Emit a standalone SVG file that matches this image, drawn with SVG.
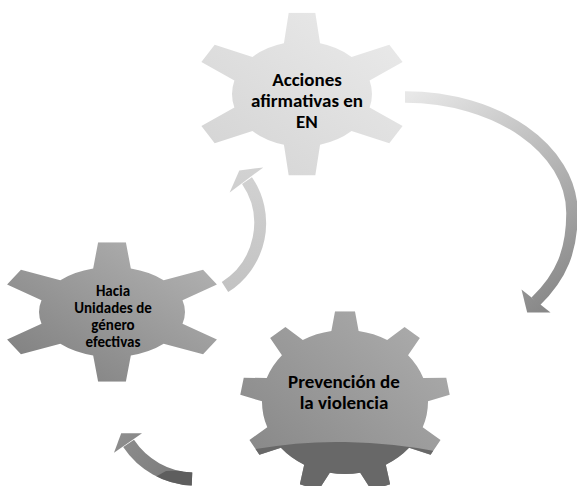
<svg xmlns="http://www.w3.org/2000/svg" width="577" height="486" viewBox="0 0 577 486">
<defs>
<style>
.lbl{font-family:Carlito,"Liberation Sans",Arial,sans-serif;font-weight:bold;fill:#000;text-anchor:middle}
</style>
<clipPath id="gear6">
<circle cx="0" cy="0" r="100"/>
<polygon points="-26,-95 -19,-155 19,-155 26,-95"/>
<polygon points="-26,-95 -19,-155 19,-155 26,-95" transform="rotate(60)"/>
<polygon points="-26,-95 -19,-155 19,-155 26,-95" transform="rotate(120)"/>
<polygon points="-26,-95 -19,-155 19,-155 26,-95" transform="rotate(180)"/>
<polygon points="-26,-95 -19,-155 19,-155 26,-95" transform="rotate(240)"/>
<polygon points="-26,-95 -19,-155 19,-155 26,-95" transform="rotate(300)"/>
</clipPath>
<clipPath id="gear9">
<circle cx="0" cy="0" r="100"/>
<polygon points="-17,-95 -12,-126 12,-126 17,-95"/>
<polygon points="-17,-95 -12,-126 12,-126 17,-95" transform="rotate(40)"/>
<polygon points="-17,-95 -12,-126 12,-126 17,-95" transform="rotate(80)"/>
<polygon points="-17,-95 -12,-126 12,-126 17,-95" transform="rotate(120)"/>
<polygon points="-17,-95 -12,-126 12,-126 17,-95" transform="rotate(160)"/>
<polygon points="-17,-95 -12,-126 12,-126 17,-95" transform="rotate(200)"/>
<polygon points="-17,-95 -12,-126 12,-126 17,-95" transform="rotate(240)"/>
<polygon points="-17,-95 -12,-126 12,-126 17,-95" transform="rotate(280)"/>
<polygon points="-17,-95 -12,-126 12,-126 17,-95" transform="rotate(320)"/>
</clipPath>
<clipPath id="darkBand">
<path d="M250,450 Q300,441 345,442 Q395,443 440,452 L440,490 L250,490 Z"/>
</clipPath>
<clipPath id="darkArrow">
<path d="M148,481 L166,471 Q185,470 205,471 L205,490 L148,490 Z"/>
</clipPath>
<linearGradient id="gTop" x1="1" y1="0" x2="0" y2="1">
<stop offset="0" stop-color="#ececec"/>
<stop offset="1" stop-color="#d2d2d2"/>
</linearGradient>
<linearGradient id="gLeft" x1="1" y1="0" x2="0" y2="1">
<stop offset="0" stop-color="#b8b8b8"/>
<stop offset="1" stop-color="#7a7a7a"/>
</linearGradient>
<linearGradient id="gBot" x1="1" y1="0" x2="0" y2="1">
<stop offset="0" stop-color="#b0b0b0"/>
<stop offset="1" stop-color="#828282"/>
</linearGradient>
<linearGradient id="aBig" gradientUnits="userSpaceOnUse" x1="405" y1="97" x2="545" y2="310">
<stop offset="0" stop-color="#e8e8e8"/>
<stop offset="1" stop-color="#888888"/>
</linearGradient>
<linearGradient id="aSmall" gradientUnits="userSpaceOnUse" x1="225" y1="290" x2="250" y2="170">
<stop offset="0" stop-color="#c2c2c2"/>
<stop offset="1" stop-color="#d2d2d2"/>
</linearGradient>
<linearGradient id="aBot" gradientUnits="userSpaceOnUse" x1="120" y1="430" x2="195" y2="485">
<stop offset="0" stop-color="#8e8e8e"/>
<stop offset="1" stop-color="#777777"/>
</linearGradient>
</defs>

<g id="connectors">
<g id="arrow-top-to-bottom">
<path d="M405,97 C497,97 572,149 572,213 C572,250 562,276 535.5,301.6" fill="none" stroke="url(#aBig)" stroke-width="11.5"/>
<polygon points="550.5,312.6 521.5,289.4 527.2,312.5" fill="url(#aBig)"/>
</g>
<g id="arrow-left-to-top">
<path d="M225,287 A75.5,75.5 0 0 0 247,180.6" fill="none" stroke="url(#aSmall)" stroke-width="12"/>
<polygon points="263.3,167.4 229.7,192.6 239.3,170.4" fill="url(#aSmall)"/>
</g>
<g id="arrow-bottom-to-left">
<path d="M192,479 A80,80 0 0 1 128.6,443.4" fill="none" stroke="url(#aBot)" stroke-width="13"/>
<polygon points="142,433.3 114,452.7 121.2,433.2" fill="url(#aBot)"/>
<g clip-path="url(#darkArrow)">
<path d="M192,479 A80,80 0 0 1 128.6,443.4" fill="none" stroke="#5e5e5e" stroke-width="13"/>
</g>
</g>
</g>

<g id="node-acciones">
<g transform="translate(302,94) scale(0.70,0.525)">
<rect x="-160" y="-160" width="320" height="320" fill="url(#gTop)" clip-path="url(#gear6)"/>
</g>
<text class="lbl" font-size="19"><tspan x="307" y="86">Acciones</tspan><tspan x="307" y="107">afirmativas en</tspan><tspan x="307" y="128">EN</tspan></text>
</g>

<g id="node-hacia">
<g transform="translate(112,312) scale(0.73,0.45)">
<rect x="-160" y="-160" width="320" height="320" fill="url(#gLeft)" clip-path="url(#gear6)"/>
</g>
<text class="lbl" font-size="15"><tspan x="113" y="296">Hacia</tspan><tspan x="113" y="313">Unidades de</tspan><tspan x="113" y="330">género</tspan><tspan x="113" y="347">efectivas</tspan></text>
</g>

<g id="node-prevencion">
<g transform="translate(345,402) scale(0.83,0.72)">
<rect x="-130" y="-130" width="260" height="260" fill="url(#gBot)" clip-path="url(#gear9)"/>
</g>
<g clip-path="url(#darkBand)">
<g transform="translate(345,402) scale(0.83,0.72)">
<rect x="-130" y="-130" width="260" height="260" fill="#686868" clip-path="url(#gear9)"/>
</g>
</g>
<text class="lbl" font-size="19"><tspan x="344" y="388">Prevención de</tspan><tspan x="344" y="409">la violencia</tspan></text>
</g>
</svg>
